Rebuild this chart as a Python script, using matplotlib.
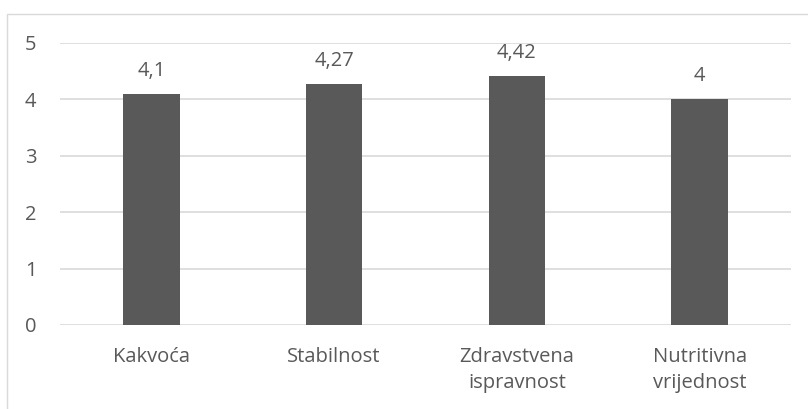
import matplotlib
matplotlib.use("Agg")
import matplotlib.pyplot as plt
from matplotlib.patches import Rectangle

categories = ["Kakvoća", "Stabilnost", "Zdravstvena\nispravnost", "Nutritivna\nvrijednost"]
values = [4.1, 4.27, 4.42, 4.0]
value_labels = ["4,1", "4,27", "4,42", "4"]
yticks = [0, 1, 2, 3, 4, 5]

W, H = 808, 409
plt.rcParams['font.family'] = ['Open Sans', 'DejaVu Sans']
fig = plt.figure(figsize=(W/100, H/100), dpi=100)
fig.patch.set_facecolor("white")

# chart area border (clipped at right/bottom)
fig.add_artist(Rectangle((7/W, -0.1), 1.2, 1 - 14/H + 0.1, transform=fig.transFigure,
                         fill=False, edgecolor="#d9d9d9", linewidth=1))

ax = fig.add_axes([60/W, 1 - 325/H, (791-60)/W, (325-43)/H])
text_color = "#595959"
fs = 14.5
x = range(len(categories))
ax.bar(x, values, width=0.31, color="#595959", zorder=3)
ax.set_xlim(-0.5, len(categories) - 0.5)
ax.set_ylim(0, 5)
ax.set_yticks(yticks)
ax.set_yticklabels([str(t) for t in yticks])
ax.set_xticks(list(x))
ax.set_xticklabels(categories, linespacing=1.4)
ax.yaxis.grid(True, color="#d9d9d9", linewidth=1.2, zorder=0)
for s in ax.spines.values():
    s.set_visible(False)
ax.tick_params(axis="both", length=0, labelsize=fs, colors=text_color)
ax.tick_params(axis="y", pad=17)
ax.tick_params(axis="x", pad=16)
for xi, v, lab in zip(x, values, value_labels):
    ax.annotate(lab, (xi, v), xytext=(0, 16.5), textcoords="offset points",
                ha="center", va="center", fontsize=fs, color=text_color)

fig.savefig("out.png", dpi=100, facecolor="white")
